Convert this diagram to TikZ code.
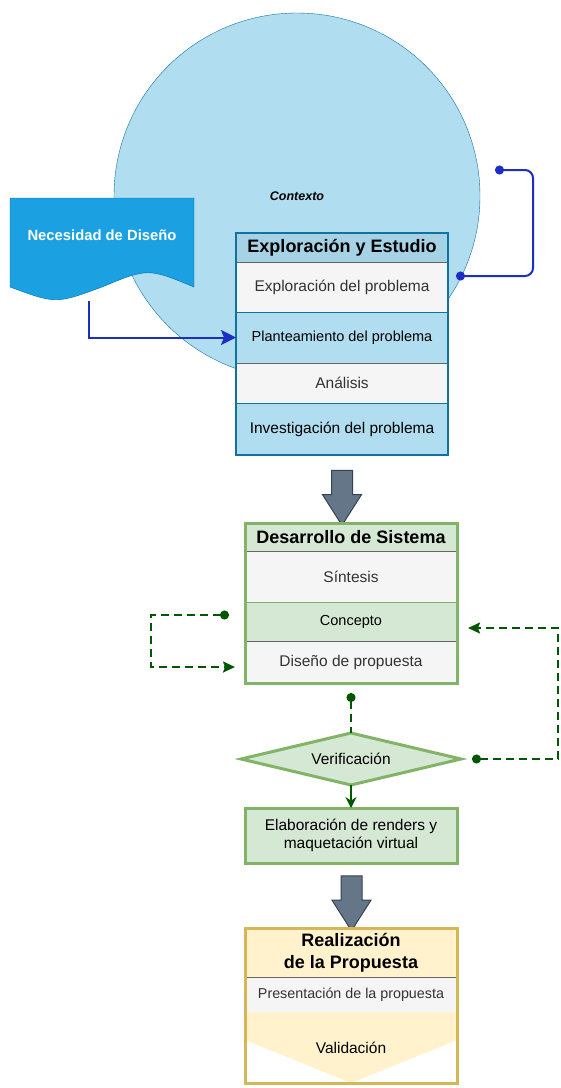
\documentclass[tikz,border=0pt]{standalone}
\usepackage{fontspec}
\setmainfont{Liberation Sans}
\usetikzlibrary{positioning,shapes.geometric,shapes.arrows,arrows.meta}

\definecolor{ctxfill}{HTML}{B1DDF0}
\definecolor{ctxline}{HTML}{10739E}
\definecolor{hdrblue}{HTML}{A6D2E6}
\definecolor{needfill}{HTML}{1BA1E2}
\definecolor{needline}{HTML}{006EAF}
\definecolor{bluelink}{HTML}{1B2FC4}
\definecolor{grayfill}{HTML}{F5F5F5}
\definecolor{grayline}{HTML}{666666}
\definecolor{graytext}{HTML}{333333}
\definecolor{greenfill}{HTML}{D5E8D4}
\definecolor{greenline}{HTML}{82B366}
\definecolor{greenlink}{HTML}{005700}
\definecolor{arrowfill}{HTML}{647687}
\definecolor{arrowline}{HTML}{314354}
\definecolor{yellowfill}{HTML}{FFF2CC}
\definecolor{yellowline}{HTML}{D6B656}

\tikzset{
    box/.style={rectangle, inner sep=0pt, outer sep=0pt, minimum width=212pt, align=center,
        font=\fontsize{15.5}{18.5}\selectfont},
    grayrow/.style={box, fill=grayfill, draw=grayline, text=graytext},
    bluerow/.style={box, fill=ctxfill, draw=ctxline},
    greenrow/.style={box, fill=greenfill, draw=greenline},
    header/.style={box, font=\bfseries\fontsize{18}{22}\selectfont},
    small/.style={font=\fontsize{14.5}{17}\selectfont},
    bigarrow/.style={single arrow, draw=arrowline, fill=arrowfill, line width=1pt, rotate=-90,
        minimum width=38pt, minimum height=55pt, single arrow head extend=9pt,
        single arrow tip angle=65, inner xsep=0pt, inner ysep=10pt},
    bluecon/.style={draw=bluelink, line width=2pt},
    greendash/.style={draw=greenlink, line width=2pt, dash pattern=on 8pt off 5pt},
    dot/.tip={Circle[length=9pt]},
    greentip/.tip={Stealth[length=12pt, width=11pt, inset=2pt]}
}

\begin{document}
\begin{tikzpicture}[x=1pt, y=-1pt]
    \useasboundingbox (0,0) rectangle (561,1088);

    \node[circle, draw=ctxline, fill=ctxfill, minimum size=366pt, inner sep=0pt,
        font=\bfseries\itshape\fontsize{12.5}{15}\selectfont] (ctx) at (297,196) {Contexto};

    \filldraw[fill=needfill, draw=needline] (10,198) -- (194,198) -- (194,287)
        .. controls (148,268) .. (102,287) .. controls (56,304) .. (10,287) -- cycle;
    \node[text=white, font=\bfseries\fontsize{14.8}{17}\selectfont] (need) at (102,235) {Necesidad de Diseño};
    \coordinate (needb) at (89,301);

    \node[header, fill=hdrblue, minimum height=29pt] (exh) at (342,247.5) {Exploración y Estudio};
    \node[grayrow, minimum height=50pt, below=0pt of exh] (ex1) {Exploración del problema};
    \node[bluerow, small, minimum height=51pt, below=0pt of ex1] (ex2) {Planteamiento del problema};
    \node[grayrow, minimum height=40pt, below=0pt of ex2] (ex3) {Análisis};
    \node[bluerow, minimum height=52pt, below=0pt of ex3] (ex4) {Investigación del problema};
    \draw[ctxline, line width=2pt] (exh.north west) rectangle (ex4.south east);

    \coordinate (ctxdot) at (495,170);
    \coordinate (exdot) at (456,276);
    \draw[bluecon, rounded corners=8pt, dot-dot] (ctxdot) -- ++(38,0) |- (exdot);
    \draw[bluecon, -{Stealth[length=15pt, width=15pt, inset=3pt]}] (needb) |- (ex2.west);

    \node[bigarrow] (ar1) at (342,489.5) {};

    \node[header, fill=greenfill, minimum height=28pt] (dsh) at (351,537) {Desarrollo de Sistema};
    \node[grayrow, minimum height=51pt, below=0pt of dsh] (ds1) {Síntesis};
    \node[greenrow, small, minimum height=39pt, below=0pt of ds1] (ds2) {Concepto};
    \node[grayrow, minimum height=42pt, below=0pt of ds2] (ds3) {Diseño de propuesta};
    \draw[greenline, line width=3pt] (dsh.north west) rectangle (ds3.south east);

    \node[diamond, draw=greenline, fill=greenfill, line width=3pt, minimum width=220pt,
        minimum height=52pt, shape aspect=4.2, inner sep=0pt, outer sep=0pt,
        font=\fontsize{15.5}{18}\selectfont] (ver) at (351,759) {Verificación};
    \node[greenrow, line width=3pt, minimum height=55pt] (elab) at (351,835.5)
        {Elaboración de renders y\\maquetación virtual};

    \coordinate (synl) at (229,615);
    \coordinate (disl) at (235,667);
    \coordinate (disb) at (351,693);
    \coordinate (verr) at (472,759);
    \coordinate (conr) at (468,628);
    \draw[greendash, dot-greentip] (synl) -- ++(-78,0) |- (disl);
    \draw[greendash, dot-] (disb) -- (ver.north);
    \draw[greendash, dot-greentip] (verr) -- ++(86,0) |- (conr);
    \draw[greenlink, line width=2pt, -{Stealth[length=11pt, width=11pt]}] (ver.south) -- (elab.north);

    \node[bigarrow] (ar2) at (351.5,895) {};

    \node[header, fill=yellowfill, minimum height=49pt] (reh) at (351,952.5) {Realización\\de la Propuesta};
    \node[grayrow, font=\fontsize{14.3}{17}\selectfont, minimum height=35pt, below=0pt of reh] (re1)
        {Presentación de la propuesta};
    \fill[yellowfill] (re1.south west) -- (re1.south east) -- ++(0,28) -- ++(-106,43) -- ++(-106,-43) -- cycle;
    \node[box, minimum height=71pt, below=0pt of re1] (val) {Validación};
    \draw[yellowline, line width=3pt] (reh.north west) rectangle (val.south east);
\end{tikzpicture}
\end{document}
